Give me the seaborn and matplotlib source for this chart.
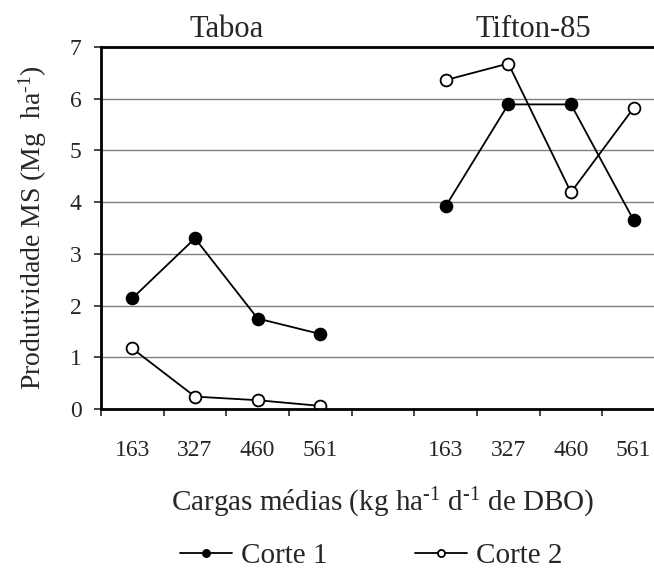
import pandas as pd
import matplotlib.pyplot as plt
import seaborn as sns

sns.set_style("white")
plt.rcParams['font.family'] = ['Liberation Serif', 'DejaVu Serif']
plt.rcParams['mathtext.fontset'] = 'custom'
plt.rcParams['mathtext.rm'] = 'Liberation Serif'
plt.rcParams['mathtext.it'] = 'Liberation Serif'

# ---------------- DATA ----------------
cargas = ["163", "327", "460", "561"]
grupos = ["Taboa", "Tifton-85"]
taboa_corte1 = [2.14, 3.30, 1.75, 1.45]
taboa_corte2 = [1.17, 0.24, 0.17, 0.06]
tifton_corte1 = [3.92, 5.89, 5.89, 3.65]
tifton_corte2 = [6.36, 6.68, 4.19, 5.82]

# positions: 4 slots per group, one empty slot between groups
pos_taboa = [0, 1, 2, 3]
pos_tifton = [5, 6, 7, 8]

rows = []
for g, pos, c1, c2 in [("Taboa", pos_taboa, taboa_corte1, taboa_corte2),
                       ("Tifton-85", pos_tifton, tifton_corte1, tifton_corte2)]:
    for p, v1, v2 in zip(pos, c1, c2):
        rows.append({"grupo": g, "pos": p, "corte": "Corte 1", "valor": v1})
        rows.append({"grupo": g, "pos": p, "corte": "Corte 2", "valor": v2})
df = pd.DataFrame(rows)

# ---------------- PLOT ----------------
fig = plt.figure(figsize=(6.54, 5.73), dpi=100)
ax = fig.add_axes([0.1544, 0.2862, 0.8624, 0.6318])

face = {"Corte 1": "black", "Corte 2": "white"}
for g in grupos:
    for corte in ["Corte 1", "Corte 2"]:
        sub = df[(df["grupo"] == g) & (df["corte"] == corte)]
        sns.lineplot(data=sub, x="pos", y="valor", ax=ax, color="black",
                     linewidth=1.3, marker="o", markersize=8.5,
                     markerfacecolor=face[corte], markeredgecolor="black",
                     markeredgewidth=1.3, label=corte if g == "Taboa" else None,
                     legend=False)

ax.set_xlim(-0.5, 8.5)
ax.set_ylim(0, 7)
ax.set_yticks(range(0, 8))
ax.yaxis.grid(True, color="#808080", linewidth=1)
ax.tick_params(axis="y", labelsize=17, length=5, width=1.2, pad=9, direction="out", left=True)

# x ticks: boundaries as major ticks, category labels centered as minor ticks
bounds = [i - 0.5 for i in range(10)]
ax.set_xticks(bounds)
ax.set_xticklabels([])
ax.tick_params(axis="x", which="major", length=5, width=1.2, direction="out", bottom=True)
ax.set_xticks(pos_taboa + pos_tifton, minor=True)
ax.set_xticklabels(cargas + cargas, minor=True)
ax.tick_params(axis="x", which="minor", length=0, labelsize=17, pad=22)

for s in ["left", "bottom", "top"]:
    ax.spines[s].set_linewidth(2)
    ax.spines[s].set_color("black")
ax.spines["right"].set_visible(False)

ax.set_xlabel(r"Cargas médias (kg ha$^{\text{-1}}$ d$^{\text{-1}}$ de DBO)", fontsize=21, labelpad=18)
ax.set_ylabel(r"Produtividade MS (Mg  ha$^{\text{-1}}$)", fontsize=20, labelpad=15)

for g, x in zip(grupos, [1.5, 6.4]):
    ax.text(x, 1.047, g, transform=ax.get_xaxis_transform(), ha="center",
            va="center", fontsize=22)

ax.legend(loc="center", bbox_to_anchor=(0.479, -0.405), ncol=2, frameon=False,
          fontsize=21, markerscale=0.6, handlelength=1.8, handletextpad=0.3,
          columnspacing=3.0)

fig.savefig("out.png", dpi=100)
